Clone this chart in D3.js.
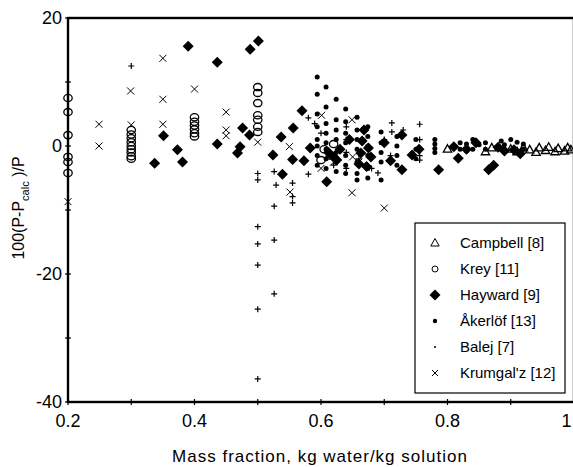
<!DOCTYPE html>
<html>
<head>
<meta charset="utf-8">
<script src="https://cdn.jsdelivr.net/npm/d3@7"></script>
<style>
  body { margin: 0; background: #fff; }
  svg { display: block; font-family: "Liberation Sans", Arial, sans-serif; }
</style>
</head>
<body>
<script>
// series values as [mass fraction, deviation %]
const campbell = [
  [0.80, -0.5], [0.86, -0.9], [0.87, -0.3], [0.90, -0.5], [0.91, -0.9], [0.92, -0.3],
  [0.93, -0.6], [0.94, -1.0], [0.945, -0.3], [0.955, -0.7], [0.96, -0.2], [0.97, -0.9],
  [0.975, -0.4], [0.985, -0.8], [0.99, -0.3], [0.995, -0.6]
];
const krey = [
  [0.2, 7.5], [0.2, 5.3], [0.2, 1.7], [0.2, -1.7], [0.2, -2.5], [0.2, -4.2],
  [0.3, 2.5], [0.3, 1.8], [0.3, 1.2], [0.3, 0.6], [0.3, 0], [0.3, -0.5], [0.3, -1.0], [0.3, -1.6], [0.3, -2.0],
  [0.4, 4.5], [0.4, 3.8], [0.4, 3.2], [0.4, 2.6], [0.4, 2.0], [0.4, 1.5],
  [0.5, 9.2], [0.5, 8.3], [0.5, 6.7], [0.5, 4.8], [0.5, 4.1], [0.5, 3.0], [0.5, 2.2],
  [0.605, -0.5], [0.615, -1.5], [0.60, -2.2], [0.62, 0.3]
];
const hayward = [
  [0.337, -2.7], [0.351, 1.6], [0.373, -0.6], [0.381, -2.5], [0.39, 15.6], [0.436, 13.1],
  [0.436, 0.3], [0.468, -1.1], [0.472, -0.1], [0.476, 2.8], [0.487, 1.7], [0.488, 15.1],
  [0.501, 16.4], [0.524, -1.4], [0.537, 1.4], [0.539, -4.4], [0.555, -2.1], [0.556, 2.8],
  [0.570, 5.5], [0.573, -2.3], [0.583, -0.3], [0.609, -5.6], [0.612, -1.0], [0.62, -1.7],
  [0.625, -2.2], [0.63, -0.5], [0.645, 1.0], [0.66, -2.8], [0.663, -1.1], [0.665, 0.8],
  [0.668, 2.5], [0.672, -3.2], [0.675, -0.3], [0.679, -1.7], [0.70, 0.5], [0.71, -2.3],
  [0.728, 1.7], [0.728, -3.7], [0.744, -1.4], [0.755, -0.5], [0.786, -3.7], [0.81, -0.1],
  [0.817, -1.9], [0.83, -0.5], [0.845, 0.5], [0.865, -3.7], [0.873, -3.0], [0.88, -0.2],
  [0.89, -0.8], [0.905, -0.6], [0.915, -1.2]
];
const akerlof = [
  [0.594, 10.8], [0.594, 8.1], [0.594, 5.0], [0.594, 3.0], [0.594, 1.0], [0.594, 0], [0.594, -1.5], [0.594, -3.0],
  [0.608, 9.2], [0.608, 6.1], [0.608, 3.5], [0.608, 2.0], [0.608, 0.5], [0.608, -0.5], [0.608, -2.0], [0.608, -3.5],
  [0.624, 7.3], [0.624, 4.1], [0.624, 2.5], [0.624, 1.0], [0.624, -1.0], [0.624, -2.5], [0.624, -4.0],
  [0.639, 5.8], [0.639, 3.8], [0.639, 2.0], [0.639, 0.5], [0.639, -1.5], [0.639, -3.0], [0.639, -4.3],
  [0.657, 4.5], [0.657, 2.5], [0.657, 1.0], [0.657, -0.5], [0.657, -2.5], [0.657, -4.3], [0.657, -5.3],
  [0.674, 3.0], [0.674, 1.5], [0.674, 0], [0.674, -1.5], [0.674, -3.5], [0.674, -5.0],
  [0.695, 2.2], [0.695, 0.5], [0.695, -1.0], [0.695, -2.5], [0.695, -5.3],
  [0.72, 1.5], [0.72, 0], [0.72, -1.5], [0.72, -3.0],
  [0.75, 1.0], [0.75, -0.5], [0.75, -2.0],
  [0.78, 1.0], [0.78, 0.3], [0.78, -0.4], [0.78, -1.0],
  [0.82, 0.5], [0.82, -0.5], [0.83, 0.3], [0.83, -0.8], [0.84, 1.0], [0.84, -0.5], [0.85, 0.2],
  [0.86, 0.5], [0.86, -0.5], [0.885, 0.8], [0.89, 0.2], [0.89, -0.6], [0.90, 1.0], [0.91, 0.6],
  [0.92, 0.3], [0.92, -0.5]
];
const balej = [
  [0.3, 12.5], [0.5, -4.3], [0.5, -5.3], [0.5, -12.6], [0.5, -15.3], [0.5, -18.6], [0.5, -25.5], [0.5, -36.4],
  [0.526, -4.0], [0.529, -6.1], [0.526, -9.4], [0.526, -14.7], [0.526, -23.1],
  [0.555, -5.8], [0.555, -7.9], [0.555, -8.9], [0.58, -4.4], [0.58, 4.4], [0.59, 3.5],
  [0.60, 2.0], [0.62, -3.0], [0.64, 3.0], [0.64, 1.0], [0.64, -1.0], [0.64, -3.5], [0.66, -2.0],
  [0.68, -3.5], [0.69, -4.2], [0.70, 1.0], [0.712, 3.6], [0.712, 2.2], [0.71, -1.5], [0.73, 2.5],
  [0.756, 3.4], [0.756, 1.0], [0.756, -1.5], [0.756, -2.2]
];
const krumgalz = [
  [0.2, -8.7], [0.249, 3.4], [0.249, 0], [0.299, 8.6], [0.3, 3.3], [0.35, 13.7], [0.35, 7.3],
  [0.35, 3.4], [0.4, 8.9], [0.45, 5.3], [0.45, 2.5], [0.45, 1.6], [0.5, 0.6], [0.55, -0.1],
  [0.551, -7.2], [0.601, 4.8], [0.60, -3.5], [0.62, -2.5], [0.649, 4.1], [0.65, -1.7],
  [0.66, -2.5], [0.649, -7.3], [0.70, -9.7]
];

const legendNames = ["Campbell [8]", "Krey [11]", "Hayward [9]", "Åkerlöf [13]", "Balej [7]", "Krumgal'z [12]"];
const xTicks = [0.2, 0.3, 0.4, 0.5, 0.6, 0.7, 0.8, 0.9, 1.0];
const xLabels = [0.2, 0.4, 0.6, 0.8, 1.0];
const yTicks = [-40, -30, -20, -10, 0, 10, 20];
const yLabels = [-40, -20, 0, 20];

const width = 573, height = 467;
const svg = d3.select('body').append('svg')
  .attr('width', width)
  .attr('height', height);

const x = d3.scaleLinear().domain([0.2, 1.0]).range([68, 574]);
const y = d3.scaleLinear().domain([-40, 20]).range([402, 18]);

// plot frame
svg.append('rect')
  .attr('x', x(0.2)).attr('y', y(20))
  .attr('width', x(1.0) - x(0.2)).attr('height', y(-40) - y(20))
  .attr('fill', 'none').attr('stroke', '#000').attr('stroke-width', 2.4);

// ticks crossing the axes
svg.append('g').selectAll('line')
  .data(xTicks)
  .enter().append('line')
  .attr('x1', d => x(d)).attr('x2', d => x(d))
  .attr('y1', y(-40) - 3).attr('y2', y(-40) + 3)
  .attr('stroke', '#000').attr('stroke-width', 1.2);

svg.append('g').selectAll('line')
  .data(yTicks)
  .enter().append('line')
  .attr('x1', x(0.2) - 3).attr('x2', x(0.2) + 3)
  .attr('y1', d => y(d)).attr('y2', d => y(d))
  .attr('stroke', '#000').attr('stroke-width', 1.2);

svg.append('g').selectAll('text')
  .data(xLabels)
  .enter().append('text')
  .attr('x', d => x(d)).attr('y', 427)
  .attr('text-anchor', 'middle')
  .attr('font-size', 18)
  .text(d => d.toFixed(1));

svg.append('g').selectAll('text')
  .data(yLabels)
  .enter().append('text')
  .attr('x', 62).attr('y', d => y(d))
  .attr('dy', '0.36em')
  .attr('text-anchor', 'end')
  .attr('font-size', 18)
  .text(d => d);

// axis titles
svg.append('text')
  .attr('x', 320).attr('y', 462)
  .attr('text-anchor', 'middle')
  .attr('font-size', 17)
  .attr('letter-spacing', 1)
  .text('Mass fraction, kg water/kg solution');

const yt = svg.append('text')
  .attr('transform', 'translate(24,208) rotate(-90)')
  .attr('text-anchor', 'middle')
  .attr('font-size', 16);
yt.append('tspan').text('100(P-P');
yt.append('tspan').attr('font-size', 11).attr('dy', 5).text('calc');
yt.append('tspan').attr('dy', -5).text(' )/P');

// markers
const diamond = 'M0,-5.5L5.5,0L0,5.5L-5.5,0Z';
const triangle = 'M0,-4.5L4.2,3L-4.2,3Z';

function drawTriangles(g, data) {
  g.selectAll('path.tri').data(data).enter().append('path')
    .attr('class', 'tri')
    .attr('d', triangle)
    .attr('transform', d => `translate(${x(d[0])},${y(d[1])})`)
    .attr('fill', 'none').attr('stroke', '#000').attr('stroke-width', 1.3);
}
function drawCircles(g, data) {
  g.selectAll('ellipse').data(data).enter().append('ellipse')
    .attr('cx', d => x(d[0])).attr('cy', d => y(d[1]))
    .attr('rx', 4.2).attr('ry', 3.6)
    .attr('fill', 'none').attr('stroke', '#000').attr('stroke-width', 1.3);
}
function drawDiamonds(g, data) {
  g.selectAll('path.dia').data(data).enter().append('path')
    .attr('class', 'dia')
    .attr('d', diamond)
    .attr('transform', d => `translate(${x(d[0])},${y(d[1])})`)
    .attr('fill', '#000');
}
function drawDots(g, data) {
  g.selectAll('circle').data(data).enter().append('circle')
    .attr('cx', d => x(d[0])).attr('cy', d => y(d[1]))
    .attr('r', 2.5).attr('fill', '#000');
}
function drawPlus(g, data) {
  g.selectAll('path.plus').data(data).enter().append('path')
    .attr('class', 'plus')
    .attr('d', 'M-3,0H3M0,-3V3')
    .attr('transform', d => `translate(${x(d[0])},${y(d[1])})`)
    .attr('stroke', '#000').attr('stroke-width', 1.2);
}
function drawCross(g, data) {
  g.selectAll('path.cross').data(data).enter().append('path')
    .attr('class', 'cross')
    .attr('d', 'M-3.5,-3.5L3.5,3.5M-3.5,3.5L3.5,-3.5')
    .attr('transform', d => `translate(${x(d[0])},${y(d[1])})`)
    .attr('stroke', '#000').attr('stroke-width', 1);
}

const plot = svg.append('g');
drawCross(plot.append('g'), krumgalz);
drawPlus(plot.append('g'), balej);
drawCircles(plot.append('g'), krey);
drawTriangles(plot.append('g'), campbell);
drawDots(plot.append('g'), akerlof);
drawDiamonds(plot.append('g'), hayward);

// legend
const lg = svg.append('g');
lg.append('rect')
  .attr('x', 415).attr('y', 223).attr('width', 150).attr('height', 170)
  .attr('fill', '#fff').attr('stroke', '#000').attr('stroke-width', 1.2);

const rowY = d3.scalePoint().domain(legendNames).range([243, 373]);
const sx = 435;

lg.append('path').attr('d', triangle).attr('transform', `translate(${sx},${rowY(legendNames[0])})`)
  .attr('fill', 'none').attr('stroke', '#000').attr('stroke-width', 1);
lg.append('ellipse').attr('cx', sx).attr('cy', rowY(legendNames[1])).attr('rx', 3).attr('ry', 3)
  .attr('fill', 'none').attr('stroke', '#000').attr('stroke-width', 1);
lg.append('path').attr('d', diamond).attr('transform', `translate(${sx},${rowY(legendNames[2])})`)
  .attr('fill', '#000');
lg.append('circle').attr('cx', sx).attr('cy', rowY(legendNames[3])).attr('r', 2.2).attr('fill', '#000');
lg.append('circle').attr('cx', sx).attr('cy', rowY(legendNames[4])).attr('r', 1).attr('fill', '#000');
lg.append('path').attr('d', 'M-3,-3L3,3M-3,3L3,-3')
  .attr('transform', `translate(${sx},${rowY(legendNames[5])})`)
  .attr('stroke', '#000').attr('stroke-width', 1);

lg.selectAll('text.lab').data(legendNames).enter().append('text')
  .attr('class', 'lab')
  .attr('x', 460).attr('y', d => rowY(d))
  .attr('dy', '0.36em')
  .attr('font-size', 15)
  .text(d => d);
</script>
</body>
</html>
